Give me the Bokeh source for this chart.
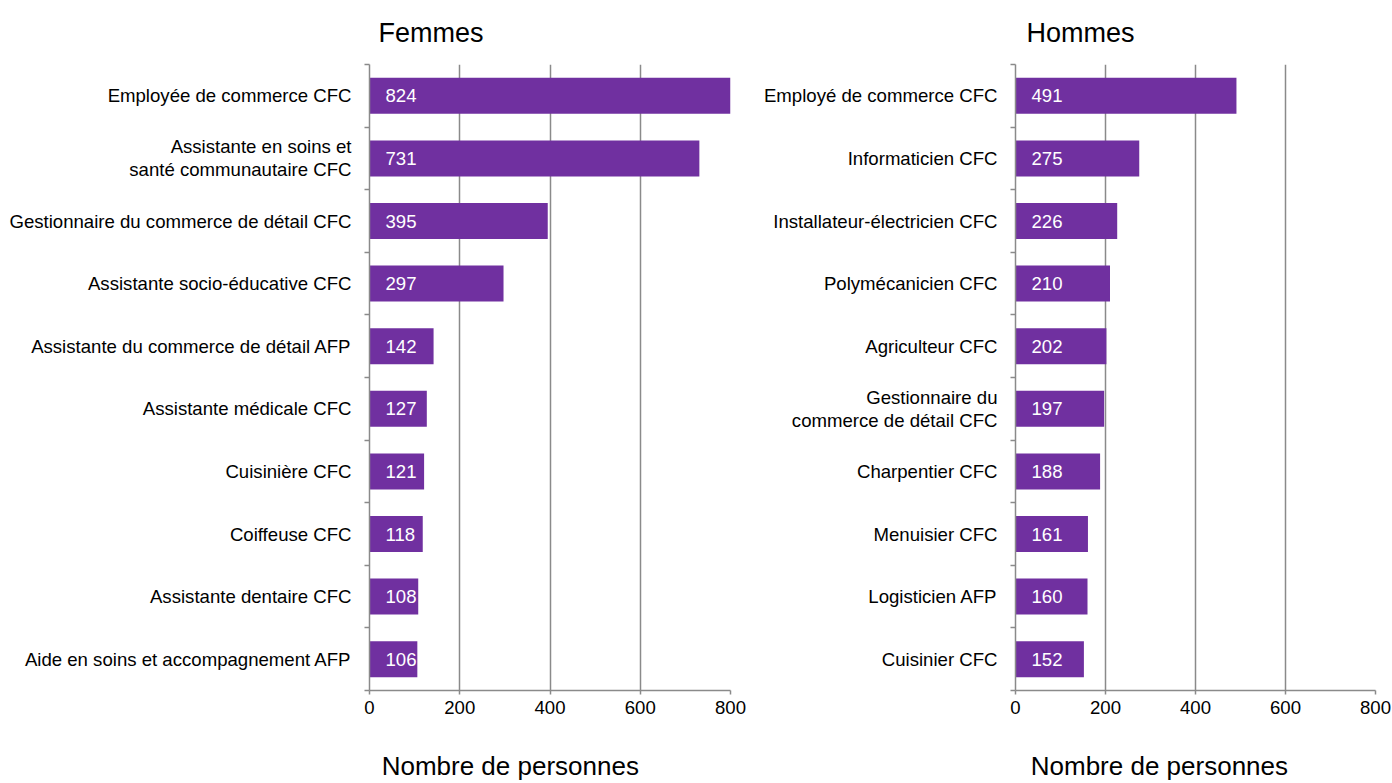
from bokeh.plotting import figure
from bokeh.models import (ColumnDataSource, Range1d, FixedTicker, LabelSet, Title)
from bokeh.core.properties import value
from bokeh.layouts import row
from bokeh.embed import file_html
from bokeh.resources import INLINE

femmes_labels = [
    "Employée de commerce CFC",
    "Assistante en soins et\nsanté communautaire CFC",
    "Gestionnaire du commerce de détail CFC",
    "Assistante socio-éducative CFC",
    "Assistante du commerce de détail AFP",
    "Assistante médicale CFC",
    "Cuisinière CFC",
    "Coiffeuse CFC",
    "Assistante dentaire CFC",
    "Aide en soins et accompagnement AFP",
]
femmes_values = [824, 731, 395, 297, 142, 127, 121, 118, 108, 106]

hommes_labels = [
    "Employé de commerce CFC",
    "Informaticien CFC",
    "Installateur-électricien CFC",
    "Polymécanicien CFC",
    "Agriculteur CFC",
    "Gestionnaire du\ncommerce de détail CFC",
    "Charpentier CFC",
    "Menuisier CFC",
    "Logisticien AFP",
    "Cuisinier CFC",
]
hommes_values = [491, 275, 226, 210, 202, 197, 188, 161, 160, 152]

x_ticks = [0, 200, 400, 600, 800]
titles = ["Femmes", "Hommes"]
axis_title = "Nombre de personnes"

FONT = "Liberation Sans"
PURPLE = "#7030A0"
GRAY = "#8a8a8a"
LABEL_SIZE = "18.6px"
NBSP = "\u00a0"


def panel(title, labels, values, width, border_left, border_right,
          title_dx, val_dx, pad):
    n = len(labels)
    centers = [i + 0.5 for i in range(n)]
    src = ColumnDataSource(dict(
        y=centers,
        v=values,
        vtxt=[str(v) for v in values],
        zero=[0] * n,
    ))
    p = figure(width=width, height=783, output_backend="svg", toolbar_location=None,
               x_range=Range1d(0, 800), y_range=Range1d(n, 0),
               min_border_left=border_left, min_border_right=border_right,
               min_border_top=64, min_border_bottom=93)
    p.outline_line_color = None
    p.background_fill_color = "white"
    p.border_fill_color = "white"

    p.hbar(y="y", right="v", left=0, height=0.575, source=src,
           fill_color=PURPLE, line_color=None)

    # x axis
    p.xaxis.ticker = FixedTicker(ticks=x_ticks)
    p.xaxis.axis_line_color = GRAY
    p.xaxis.axis_line_width = 1.5
    p.xaxis.major_tick_line_color = GRAY
    p.xaxis.major_tick_line_width = 1.5
    p.xaxis.major_tick_out = 4
    p.xaxis.major_tick_in = 0
    p.xaxis.minor_tick_line_color = None
    p.xaxis.major_label_text_font = FONT
    p.xaxis.major_label_text_font_size = LABEL_SIZE
    p.xaxis.major_label_text_color = "black"
    p.xaxis.major_label_standoff = 6
    # trailing no-break spaces shift the centred label to the left, as in the reference
    p.xaxis.axis_label = axis_title + NBSP * pad
    p.xaxis.axis_label_standoff = 34
    p.xaxis.axis_label_text_font = FONT
    p.xaxis.axis_label_text_font_size = "26px"
    p.xaxis.axis_label_text_font_style = "normal"
    p.xaxis.axis_label_text_color = "black"

    # y axis: labels at centers, tick marks at boundaries
    p.yaxis.ticker = FixedTicker(ticks=centers, minor_ticks=list(range(n + 1)))
    p.yaxis.major_label_overrides = {c: lab for c, lab in zip(centers, labels)}
    p.yaxis.axis_line_color = GRAY
    p.yaxis.axis_line_width = 1.5
    p.yaxis.major_tick_line_color = None
    p.yaxis.major_tick_out = 0
    p.yaxis.major_tick_in = 0
    p.yaxis.minor_tick_line_color = GRAY
    p.yaxis.minor_tick_line_width = 1.5
    p.yaxis.minor_tick_out = 5
    p.yaxis.minor_tick_in = 0
    p.yaxis.major_label_standoff = 13
    p.yaxis.major_label_text_font = FONT
    p.yaxis.major_label_text_font_size = LABEL_SIZE
    p.yaxis.major_label_text_color = "black"
    p.yaxis.major_label_text_align = "right"
    p.yaxis.major_label_text_line_height = 1.1

    p.ygrid.grid_line_color = None
    p.xgrid.ticker = FixedTicker(ticks=x_ticks[1:])
    p.xgrid.grid_line_color = GRAY
    p.xgrid.grid_line_width = 1.5

    # value labels
    p.add_layout(LabelSet(x="zero", y="y", text="vtxt", source=src,
                          x_offset=val_dx, text_align="left", text_baseline="middle",
                          text_font=value(FONT), text_font_size=LABEL_SIZE,
                          text_color="white"))
    # title
    p.title = Title(text=title, align="left", vertical_align="top",
                    offset=title_dx, standoff=30,
                    text_font=FONT, text_font_size="27px", text_font_style="normal",
                    text_color="black")
    return p


p1 = panel(titles[0], femmes_labels, femmes_values, width=760,
           border_left=369, border_right=30, title_dx=9, val_dx=16, pad=11)
p2 = panel(titles[1], hommes_labels, hommes_values, width=632,
           border_left=255, border_right=17, title_dx=11, val_dx=16, pad=10)

layout = row(p1, p2)
open("out.html", "w").write(file_html(layout, INLINE))
